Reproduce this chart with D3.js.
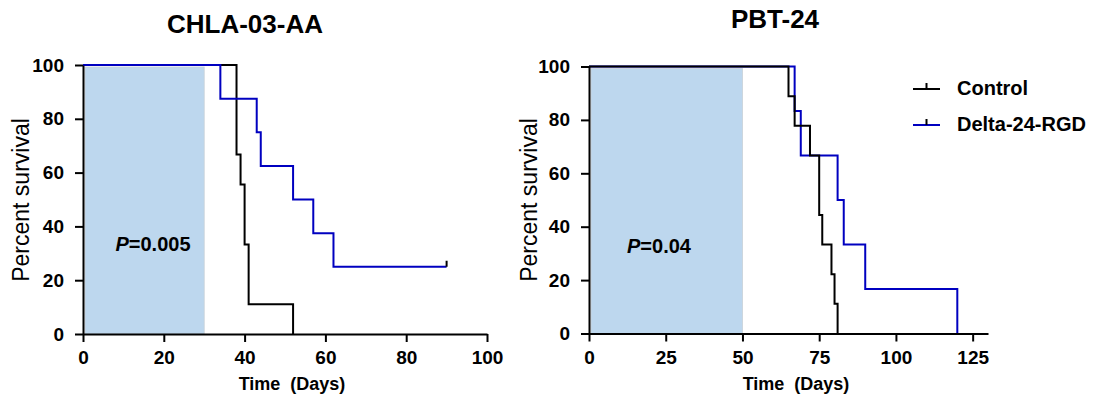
<!DOCTYPE html>
<html>
<head>
<meta charset="utf-8">
<script src="https://cdn.jsdelivr.net/npm/d3@7"></script>
<style>
  body { margin: 0; background: #fff; }
  text { font-family: Arial, "Liberation Sans", sans-serif; }
</style>
</head>
<body>
<div id="chart"></div>
<script>
// CHLA-03-AA survival steps (days, percent survival)
const chlaControlDays = [0, 38, 39, 40, 41, 52];
const chlaControlSurv = [100, 66.7, 55.6, 33.3, 11.1, 0];
const chlaDeltaDays = [0, 34, 43, 44, 52, 57, 62, 90];
const chlaDeltaSurv = [100, 87.5, 75, 62.5, 50, 37.5, 25, 25];
const chlaDeltaCensored = [90];
const chlaTreatment = [0, 30];

// PBT-24 survival steps
const pbtControlDays = [0, 65, 67, 72, 75, 76, 79, 80, 81];
const pbtControlSurv = [100, 88.9, 77.8, 66.7, 44.4, 33.3, 22.2, 11.1, 0];
const pbtDeltaDays = [0, 67, 69, 81, 83, 90, 120];
const pbtDeltaSurv = [100, 83.3, 66.7, 50, 33.3, 16.7, 0];
const pbtTreatment = [0, 50];

const chlaXTicks = [0, 20, 40, 60, 80, 100];
const pbtXTicks = [0, 25, 50, 75, 100, 125];
const yTicks = [0, 20, 40, 60, 80, 100];

const seriesNames = ['Control', 'Delta-24-RGD'];
const seriesColors = ['#000000', '#0000c0'];

const svg = d3.select('#chart').append('svg')
  .attr('width', 1099)
  .attr('height', 398);

const toPoints = (days, surv) => days.map((d, i) => ({ day: d, surv: surv[i] }));

const drawPanel = (opts) => {
  const x = d3.scaleLinear().domain(opts.xDomain).range(opts.xRange);
  const y = d3.scaleLinear().domain([0, 100]).range(opts.yRange);
  const g = svg.append('g');

  // treatment window shading
  g.append('rect')
    .attr('x', x(opts.treatment[0]) + 2)
    .attr('y', y(100) + 2)
    .attr('width', x(opts.treatment[1]) - x(opts.treatment[0]) - 2)
    .attr('height', y(0) - y(100) - 2)
    .attr('fill', '#bdd7ee')
    .attr('stroke', '#c8d0d8')
    .attr('stroke-width', 0.8);

  g.append('text')
    .attr('x', opts.pX)
    .attr('y', opts.pY)
    .attr('text-anchor', 'middle')
    .style('font-size', '20px')
    .style('font-weight', 'bold')
    .html(`<tspan font-style="italic">P</tspan>=${opts.pValue}`);

  const line = d3.line()
    .x((d) => x(d.day))
    .y((d) => y(d.surv))
    .curve(d3.curveStepAfter);

  opts.series.forEach((s) => {
    g.append('path')
      .datum(toPoints(s.days, s.surv))
      .attr('d', line)
      .attr('fill', 'none')
      .attr('stroke', s.color)
      .attr('stroke-width', 2);
    (s.censored || []).forEach((c) => {
      const idx = s.days.indexOf(c);
      g.append('line')
        .attr('x1', x(c)).attr('x2', x(c))
        .attr('y1', y(s.surv[idx]))
        .attr('y2', y(s.surv[idx]) - 6)
        .attr('stroke', '#000')
        .attr('stroke-width', 2);
    });
  });

  // axes
  const xAxis = g.append('g')
    .attr('transform', `translate(0,${opts.yRange[0]})`)
    .call(d3.axisBottom(x).tickValues(opts.xTicks).tickSize(8).tickPadding(9).tickSizeOuter(0));
  const yAxis = g.append('g')
    .attr('transform', `translate(${opts.xRange[0]},0)`)
    .call(d3.axisLeft(y).tickValues(yTicks).tickSize(8).tickPadding(11).tickSizeOuter(0));
  [xAxis, yAxis].forEach((a) => {
    a.select('.domain').attr('stroke-width', 2);
    a.selectAll('.tick line').attr('stroke-width', 2);
    a.selectAll('.tick text')
      .style('font-size', '19px')
      .style('font-weight', 'bold')
      .attr('fill', '#000');
  });

  svg.append('text')
    .attr('x', opts.titleX)
    .attr('y', opts.titleY)
    .attr('text-anchor', 'middle')
    .style('font-size', '26px')
    .style('font-weight', 'bold')
    .text(opts.title);

  svg.append('text')
    .attr('x', opts.xLabelX)
    .attr('y', 390)
    .attr('text-anchor', 'middle')
    .attr('xml:space', 'preserve')
    .style('white-space', 'pre')
    .style('font-size', '18px')
    .style('font-weight', 'bold')
    .text('Time  (Days)');

  svg.append('text')
    .attr('transform', `translate(${opts.yLabelX},200) rotate(-90)`)
    .attr('text-anchor', 'middle')
    .style('font-size', '23px')
    .text('Percent survival');
};

drawPanel({
  title: 'CHLA-03-AA', titleX: 245, titleY: 33,
  xDomain: [0, 100], xRange: [83, 487], yRange: [334, 65],
  xTicks: chlaXTicks, treatment: chlaTreatment,
  pValue: '0.005', pX: 153, pY: 251,
  xLabelX: 292, yLabelX: 29,
  series: [
    { days: chlaControlDays, surv: chlaControlSurv, color: seriesColors[0] },
    { days: chlaDeltaDays, surv: chlaDeltaSurv, color: seriesColors[1], censored: chlaDeltaCensored },
  ],
});

drawPanel({
  title: 'PBT-24', titleX: 775, titleY: 28,
  xDomain: [0, 130], xRange: [589, 988], yRange: [333.5, 66.5],
  xTicks: pbtXTicks, treatment: pbtTreatment,
  pValue: '0.04', pX: 659, pY: 253,
  xLabelX: 796, yLabelX: 537,
  series: [
    { days: pbtDeltaDays, surv: pbtDeltaSurv, color: seriesColors[1] },
    { days: pbtControlDays, surv: pbtControlSurv, color: seriesColors[0] },
  ],
});

// legend
const legend = svg.append('g').attr('transform', 'translate(913,89)');
seriesNames.forEach((name, i) => {
  const row = legend.append('g').attr('transform', `translate(0,${i * 36})`);
  row.append('line').attr('x1', 0).attr('x2', 27).attr('y1', 0).attr('y2', 0)
    .attr('stroke', seriesColors[i]).attr('stroke-width', 2);
  row.append('line').attr('x1', 13.5).attr('x2', 13.5).attr('y1', 0).attr('y2', -6)
    .attr('stroke', '#000').attr('stroke-width', 2);
  row.append('text').attr('x', 44).attr('y', 6)
    .style('font-size', '20px').style('font-weight', 'bold')
    .text(name);
});
</script>
</body>
</html>
